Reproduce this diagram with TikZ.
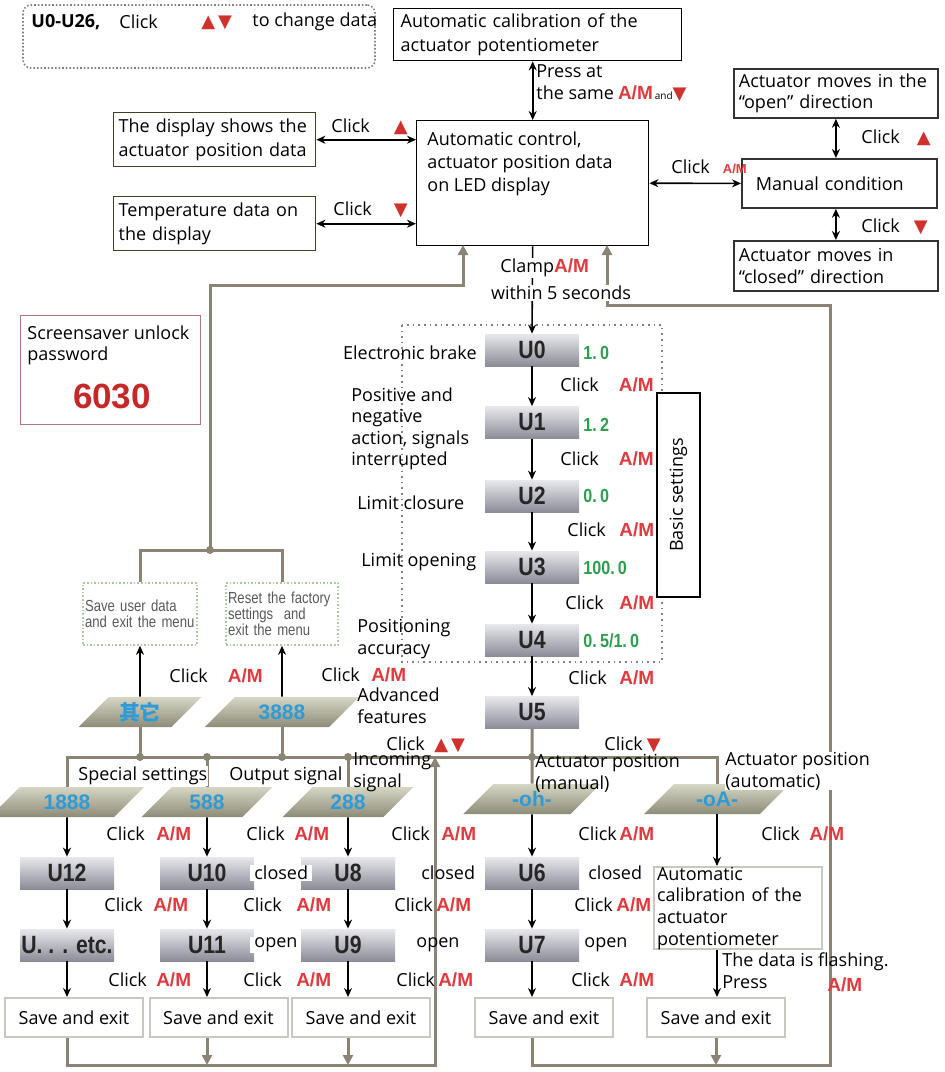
\documentclass[tikz,border=0pt]{standalone}
\usepackage{fontspec}
\setmainfont{Open Sans}
\newfontfamily\keyfont{Liberation Sans}
\newfontfamily\narrowfont[FakeStretch=0.85]{Liberation Sans}
\newfontfamily\menufont[FakeStretch=0.82]{Liberation Sans}
\newfontfamily\symfont{DejaVu Sans}
\newfontfamily\cjkfont{Noto Sans CJK SC}
\usetikzlibrary{arrows.meta,shapes.geometric}

\definecolor{loopbrown}{HTML}{8B8373}
\definecolor{trired}{HTML}{D0312D}
\definecolor{amred}{HTML}{E0393E}
\definecolor{valgreen}{HTML}{2E9E4E}
\definecolor{parblue}{HTML}{2F9BD6}
\definecolor{ublocktop}{HTML}{E8E8EC}
\definecolor{ublockbot}{HTML}{8C8C98}
\definecolor{partop}{HTML}{D6D6C4}
\definecolor{parbot}{HTML}{8C8C78}
\definecolor{pwdred}{HTML}{C62828}
\definecolor{pwdframe}{HTML}{B07878}
\definecolor{menugreen}{HTML}{A9C9A0}
\definecolor{savegray}{HTML}{C8C8C0}
\definecolor{framebrown}{HTML}{4A3C22}

\newcommand{\AMkey}{{\keyfont\bfseries\fontsize{9.5}{10}\selectfont\color{amred}A/M}}
\newcommand{\AMsmall}{{\keyfont\bfseries\fontsize{6.5}{7}\selectfont\color{amred}A/M}}
\newcommand{\triup}{{\symfont\fontsize{9}{10}\selectfont\color{trired}▲}}
\newcommand{\tridown}{{\symfont\fontsize{9}{10}\selectfont\color{trired}▼}}
\newcommand{\clickam}[1]{Click\hspace{#1}\AMkey}

\tikzset{
  frame/.style={draw=black, line width=0.7pt, inner sep=0pt, anchor=north west, align=left},
  txt/.style={inner sep=0.5pt, anchor=west},
  multitxt/.style={inner sep=0pt, anchor=north west, align=left, font=\fontsize{9}{11}\selectfont},
  ukey/.style={top color=ublocktop, bottom color=ublockbot, minimum width=47pt, minimum height=16pt,
    inner sep=0pt, text=black!85, font=\narrowfont\bfseries\fontsize{12.5}{13}\selectfont},
  code/.style={trapezium, trapezium left angle=45, trapezium right angle=135, top color=partop,
    bottom color=parbot, minimum width=40pt, minimum height=15pt, inner sep=0pt, text=parblue,
    font=\keyfont\bfseries\fontsize{10.5}{11}\selectfont},
  val/.style={txt, text=valgreen, font=\narrowfont\bfseries\fontsize{9.5}{10}\selectfont},
  menubox/.style={draw=menugreen, densely dotted, line width=0.8pt, minimum width=57pt, minimum height=31pt,
    text width=55pt, inner xsep=1pt, align=left, text=black!65, font=\menufont\fontsize{8}{8}\selectfont},
  savebox/.style={draw=savegray, line width=1pt, minimum width=69pt, minimum height=19.5pt, inner sep=0pt},
  flow/.style={-{Stealth[length=4.5pt,width=4pt]}, line width=0.8pt},
  both/.style={{Stealth[length=4.5pt,width=4pt]}-{Stealth[length=4.5pt,width=4pt]}, line width=0.8pt},
  back/.style={draw=loopbrown, line width=1.5pt},
  backarr/.style={back, -{Triangle[length=5pt,width=5pt]}},
}

\begin{document}
\begin{tikzpicture}[x=0.5pt,y=-0.5pt,font=\fontsize{9}{12}\selectfont]
\useasboundingbox (0,0) rectangle (945,1072);

% top row
\node[draw=gray, densely dotted, rounded corners=4pt, line width=0.8pt, minimum width=176pt, minimum height=31.5pt] (hint) at (199,36.5) {};
\node[txt, font=\bfseries\fontsize{9}{12}\selectfont] (hintU) at (30,22) {U0-U26,};
\node[txt] (hintclick) at (118,22) {Click};
\node[txt] (hintkeys) at (200,23) {\triup\,\tridown};
\node[txt] (hintchange) at (251,22) {to change data};

\node[frame, minimum width=144pt, minimum height=26pt, text width=137pt, inner xsep=3.5pt] (calib) at (393,8) {Automatic calibration of the\\actuator potentiometer};
\node[frame, draw=framebrown, minimum width=101pt, minimum height=27pt, text width=96pt, inner xsep=2.5pt] (posbox) at (113,112) {The display shows the\\actuator position data};
\node[frame, draw=framebrown, minimum width=101pt, minimum height=27pt, text width=96pt, inner xsep=2.5pt] (tempbox) at (113,196) {Temperature data on\\the display};
\node[frame, minimum width=116pt, minimum height=62.5pt] (main) at (416,120) {};
\node[multitxt, font=\fontsize{9}{11.5}\selectfont] (maintxt) at (427,131) {Automatic control,\\actuator position data\\on LED display};

\node[frame, draw=black!80, line width=0.9pt, minimum width=102pt, minimum height=24.5pt, text width=97pt, inner xsep=2.5pt, font=\fontsize{9}{10.5}\selectfont] (openbox) at (733,68) {Actuator moves in the\\“open” direction};
\node[frame, draw=black!80, line width=0.9pt, minimum width=97.5pt, minimum height=24.5pt, text width=83.5pt, inner xsep=7pt] (manual) at (741,158) {Manual condition};
\node[frame, draw=black!80, line width=0.9pt, minimum width=102pt, minimum height=25pt, text width=97pt, inner xsep=2.5pt, font=\fontsize{9}{11}\selectfont] (closedbox) at (733,240) {Actuator moves in\\“closed” direction};

% password and menu exits
\node[frame, draw=pwdframe, minimum width=90pt, minimum height=54.5pt] (pwd) at (20,315) {};
\node[multitxt, font=\fontsize{9}{10.5}\selectfont] (pwdtxt) at (27,325) {Screensaver unlock\\password};
\node[font=\keyfont\bfseries\fontsize{17.5}{18}\selectfont, text=pwdred] (pwdnum) at (112,396) {6030};

\node[menubox] (saveuser) at (140,614) {Save user data\\and exit the menu};
\node[menubox, minimum width=56pt, text width=54pt] (reset) at (282,614) {Reset the factory\\settings\ \ and\\exit the menu};

% basic settings chain
\draw[dotted, gray, line width=0.8pt] (402,325) rectangle (662,662);
\node[draw, line width=0.8pt, rotate=90, minimum width=102pt, minimum height=21.5pt, inner sep=0pt, fill=white] (basic) at (678.5,495) {Basic settings};

\node[ukey] (U0) at (532,350) {U0};
\node[ukey] (U1) at (532,422.5) {U1};
\node[ukey] (U2) at (532,496) {U2};
\node[ukey] (U3) at (532,567) {U3};
\node[ukey] (U4) at (532,640) {U4};
\node[ukey] (U5) at (532,712.5) {U5};

% advanced branches
\node[code, font=\cjkfont\bfseries\fontsize{10.5}{11}\selectfont] (pother) at (140,712) {其它};
\node[code] (p3888) at (282,712) {3888};
\node[code] (p1888) at (67,802) {1888};
\node[code] (p588) at (207,802) {588};
\node[code] (p288) at (348,802) {288};
\node[code] (poh) at (532,799) {-oh-};
\node[code] (poA) at (717,799) {-oA-};

\node[ukey] (U12) at (67,873) {U12};
\node[ukey] (Uetc) at (67,945) {U. . . etc.};
\node[ukey] (U10) at (207,873) {U10};
\node[ukey] (U11) at (207,945) {U11};
\node[ukey] (U8) at (348,873) {U8};
\node[ukey] (U9) at (348,945) {U9};
\node[ukey] (U6) at (532,873) {U6};
\node[ukey] (U7) at (532,945) {U7};
\node[frame, draw=savegray, line width=1pt, minimum width=84pt, minimum height=40.5pt, text width=81pt, inner xsep=1.5pt, font=\fontsize{9}{10.8}\selectfont] (calib2) at (653,866) {Automatic\\calibration of the\\actuator\\potentiometer};

\node[savebox] (save1) at (74,1017.5) {Save and exit};
\node[savebox] (save2) at (218.5,1017.5) {Save and exit};
\node[savebox] (save3) at (361,1017.5) {Save and exit};
\node[savebox] (save4) at (544,1017.5) {Save and exit};
\node[savebox] (save5) at (716,1017.5) {Save and exit};

% return paths
\coordinate (inL) at (463,245);
\coordinate (inR) at (607,245);
\coordinate (J1) at (210,550);
\coordinate (cornerL) at (210,285);
\coordinate (cornerR) at (830,305);
\coordinate (lowL) at (435,1065);
\coordinate (lowR) at (830,1065);
\coordinate (dist) at (532,757);
\coordinate (jL) at (435,757);

\draw[back] (U5) -- (poh);
\draw[back] (p1888.north) |- (dist) -| (poA.north);
\draw[back] (p588.north) -- (p588.north |- dist);
\draw[back] (p288.north) -- (p288.north |- dist);
\draw[back] (pother.south) -- (pother.south |- dist);
\draw[back] (p3888.south) -- (p3888.south |- dist);
\draw[back] (saveuser.north) |- (J1) -| (reset.north);
\draw[backarr] (J1) -- (cornerL) -| (inL);
\draw[backarr] (save1.south -| Uetc) |- (lowL) -- (jL);
\draw[backarr] (save2.south -| U11) -- (lowL -| U11);
\draw[backarr] (save3.south -| U9) -- (lowL -| U9);
\draw[backarr] (save4.south -| U7) |- (lowR) -- (cornerR) -| (inR);
\draw[backarr] (save5.south) -- (save5.south |- lowR);
\fill[loopbrown] (J1) circle (2pt);
\fill[loopbrown] (pother.south |- dist) circle (2pt);
\fill[loopbrown] (p588.north |- dist) circle (2pt);
\fill[loopbrown] (p3888.south |- dist) circle (2pt);
\fill[loopbrown] (p288.north |- dist) circle (2pt);
\fill[loopbrown] (dist) circle (2pt);

% black connectors
\draw[both] (main.north) -- (main.north |- calib.south);
\draw[both] (posbox.east) -- (posbox.east -| main.west);
\draw[both] (tempbox.east) -- (tempbox.east -| main.west);
\draw[both] (main.east) -- (manual.west);
\draw[both] (openbox.south) -- (openbox.south |- manual.north);
\draw[both] (closedbox.north) -- (closedbox.north |- manual.south);
\draw[flow] (main.south) -- (U0.north);
\draw[flow] (U0) -- (U1);
\draw[flow] (U1) -- (U2);
\draw[flow] (U2) -- (U3);
\draw[flow] (U3) -- (U4);
\draw[flow] (U4) -- (U5);
\draw[flow] (pother) -- (saveuser);
\draw[flow] (p3888) -- (reset);
\draw[flow] (p1888) -- (U12);
\draw[flow] (U12) -- (Uetc);
\draw[flow] (Uetc.south) -- (Uetc.south |- save1.north);
\draw[flow] (p588) -- (U10);
\draw[flow] (U10) -- (U11);
\draw[flow] (U11.south) -- (U11.south |- save2.north);
\draw[flow] (p288) -- (U8);
\draw[flow] (U8) -- (U9);
\draw[flow] (U9.south) -- (U9.south |- save3.north);
\draw[flow] (poh) -- (U6);
\draw[flow] (U6) -- (U7);
\draw[flow] (U7.south) -- (U7.south |- save4.north);
\draw[flow] (poA.south) -- (poA.south |- calib2.north);
\draw[flow] (calib2.south -| poA) -- (poA |- save5.north);

% labels
\node[multitxt] (pressat) at (536,64) {Press at\\the same\hspace{2pt}\AMkey\hspace{1pt}{\fontsize{5}{5}\selectfont and}\tridown};
\node[txt] (posclick) at (330,127) {Click\hspace{12pt}\triup};
\node[txt] (tempclick) at (332,210) {Click\hspace{11pt}\tridown};
\node[txt] (manclick) at (670,167) {Click\hspace{6.5pt}\AMsmall};
\node[txt] (openclick) at (860,138) {Click\hspace{8.5pt}\triup};
\node[txt] (closeclick) at (860,227) {Click\hspace{7pt}\tridown};
\node[txt, fill=white] (clamp) at (499,268) {Clamp\AMkey};
\node[fill=white, inner sep=0.5pt] (within) at (561,293) {within 5 seconds};

\node[txt, anchor=east] (lbrake) at (478,353) {Electronic brake};
\node[multitxt, font=\fontsize{9}{10.8}\selectfont] (lpositive) at (351,387) {Positive and\\negative\\action, signals\\interrupted};
\node[txt] (lclosure) at (356,503) {Limit closure};
\node[txt] (lopening) at (360,562) {Limit opening};
\node[multitxt] (laccuracy) at (357,619) {Positioning\\accuracy};
\node[multitxt] (ladvanced) at (357,687) {Advanced\\features};

\node[val] (v0) at (582,353) {1.\,0};
\node[val] (v1) at (582,425) {1.\,2};
\node[val] (v2) at (582,496) {0.\,0};
\node[val] (v3) at (582,568) {100.\,0};
\node[val] (v4) at (582,641) {0.\,5/1.\,0};

\node[txt] (c01) at (559,385) {\clickam{10pt}};
\node[txt] (c12) at (559,459) {\clickam{10pt}};
\node[txt] (c23) at (566,530) {\clickam{6.7pt}};
\node[txt] (c34) at (564,603) {\clickam{7.7pt}};
\node[txt] (c45) at (567,678) {\clickam{6.2pt}};
\node[txt] (cother) at (168,676) {\clickam{10pt}};
\node[txt] (c3888) at (320,675) {\clickam{5.7pt}};

\node[txt] (cadv) at (385,745) {Click\hspace{4.7pt}\triup\,\tridown};
\node[txt] (cpos) at (603,745) {Click\hspace{2pt}\tridown};
\node[txt, fill=white] (lspecial) at (77,776) {Special settings};
\node[txt, fill=white] (loutput) at (228,776) {Output signal};
\node[multitxt] (lincoming) at (353,752) {Incoming\\signal};
\node[multitxt] (lmanualpos) at (535,754) {Actuator position\\(manual)};
\node[multitxt, fill=white] (lautopos) at (725,752) {Actuator position\\(automatic)};

\node[txt] (r1a) at (105,834) {\clickam{5.7pt}};
\node[txt] (r1b) at (245,834) {\clickam{4.7pt}};
\node[txt] (r1c) at (390,834) {\clickam{5.7pt}};
\node[txt] (r1d) at (577,834) {\clickam{1.2pt}};
\node[txt] (r1e) at (760,834) {\clickam{4.7pt}};

\node[txt, fill=white, inner xsep=2pt] (closed10) at (250,873) {closed};
\node[txt] (closed8) at (420,873) {closed};
\node[txt] (closed6) at (587,873) {closed};

\node[txt] (r2a) at (103,905) {\clickam{5.2pt}};
\node[txt] (r2b) at (242,905) {\clickam{7.2pt}};
\node[txt] (r2c) at (393,905) {\clickam{1.7pt}};
\node[txt] (r2d) at (573,905) {\clickam{1.7pt}};

\node[txt, fill=white, inner xsep=2pt] (open11) at (250,945) {open};
\node[txt] (open9) at (415,945) {open};
\node[txt] (open7) at (583,945) {open};

\node[txt] (r3a) at (107,980) {\clickam{4.7pt}};
\node[txt] (r3b) at (242,980) {\clickam{7.2pt}};
\node[txt] (r3c) at (395,980) {\clickam{1.7pt}};
\node[txt] (r3d) at (570,980) {\clickam{4.7pt}};

\node[multitxt] (flash) at (722,952) {The data is flashing.\\Press};
\node[txt] (flashkey) at (826,985) {\AMkey};
\end{tikzpicture}
\end{document}
